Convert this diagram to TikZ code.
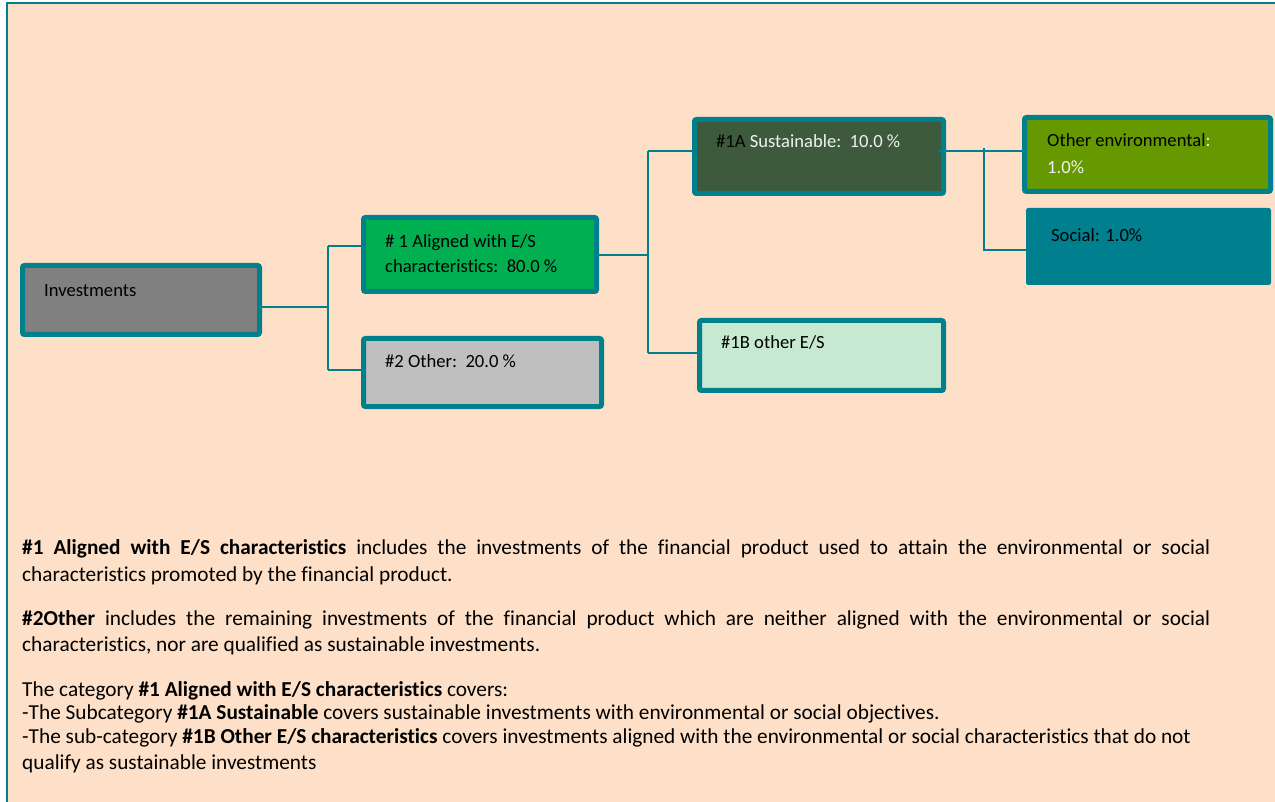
\documentclass[tikz,border=0pt]{standalone}
\usepackage{fontspec}
\setmainfont[Ligatures=NoCommon]{Carlito}
\definecolor{bg}{HTML}{FDE0C7}
\definecolor{tealc}{HTML}{007F8C}
\definecolor{invc}{HTML}{808080}
\definecolor{alc}{HTML}{00B050}
\definecolor{othc}{HTML}{BFBFBF}
\definecolor{susc}{HTML}{3E5A3C}
\definecolor{envc}{HTML}{669900}
\definecolor{socc}{HTML}{00808F}
\definecolor{esc}{HTML}{C7E9D2}
\definecolor{lightt}{HTML}{F0F0F0}
\tikzset{
  bx/.style={draw=tealc, line width=5pt, rounded corners=2pt, inner sep=0pt},
  conn/.style={draw=tealc, line width=1.8pt},
  txt/.style={anchor=base west, inner sep=0pt, font=\fontsize{18.6}{23}\selectfont},
  ptxt/.style={anchor=base west, inner sep=0pt, font=\fontsize{21.3}{24}\selectfont},
}
\begin{document}
\begin{tikzpicture}[x=1pt,y=-1pt]
\useasboundingbox (0,0) rectangle (1275,802);
\fill[white] (0,0) rectangle (1275,802);
\fill[bg] (6,3) rectangle (1275,802);
\draw[tealc, line width=2pt] (6.5,802) -- (6.5,3.5) -- (1275,3.5);

% boxes
\node[bx, fill=invc, minimum width=237pt, minimum height=69pt] (inv) at (141,300) {};
\node[bx, fill=alc, minimum width=233pt, minimum height=74pt] (a1) at (480,254.5) {};
\node[bx, fill=othc, minimum width=238pt, minimum height=68pt] (o2) at (482.5,372.5) {};
\node[bx, fill=susc, minimum width=249pt, minimum height=74pt] (s1a) at (819,156.5) {};
\node[bx, fill=esc, minimum width=244pt, minimum height=70pt] (e1b) at (821.5,355.5) {};
\node[bx, fill=envc, minimum width=246pt, minimum height=74pt] (oe) at (1147.5,154.5) {};
\node[draw=socc, fill=socc, line width=1pt, rounded corners=2pt, minimum width=244pt, minimum height=76pt] (soc) at (1148.5,246.5) {};

% connectors
\coordinate (j1) at (328,307);
\coordinate (t1) at (328,246);
\coordinate (b1) at (328,370);
\coordinate (j2) at (648,255);
\coordinate (t2) at (648,151);
\coordinate (b2) at (648,353);
\coordinate (t3) at (984,148);
\coordinate (b3) at (984,250);
\coordinate (h3) at (938,151);
\draw[conn] (inv.east |- j1) -- (j1);
\draw[conn] (t1) -- (b1);
\draw[conn] (t1) -- (a1.west |- t1);
\draw[conn] (b1) -- (o2.west |- b1);
\draw[conn] (a1.east |- j2) -- (j2);
\draw[conn] (t2) -- (b2);
\draw[conn] (t2) -- (s1a.west |- t2);
\draw[conn] (b2) -- (e1b.west |- b2);
\draw[conn] (h3) -- (oe.west |- h3);
\draw[conn] (t3) -- (b3) -- (soc.west |- b3);

% box texts
\node[txt] (tinv) at (44,297) {Investments};
\node[txt] (ta1) at (385,248) {\# 1 Aligned with E/S};
\node[txt] (ta2) at (385,273) {characteristics:\ \ 80.0 \%};
\node[txt] (to2) at (385,368) {\#2 Other:\ \ 20.0 \%};
\node[txt] (ts1a) at (716,148) {\#1A\ \textcolor{lightt}{Sustainable:\ \ 10.0 \%}};
\node[txt] (te1b) at (721,349) {\#1B other E/S};
\node[txt] (toe1) at (1047,147) {Other environmental\textcolor{lightt}{:}};
\node[txt, text=lightt] (toe2) at (1047,174) {1.0\%};
\node[txt] (tsoc) at (1051,242) {Social: 1.0\%};

% paragraphs
\node[ptxt] (p1a) at (22,554) {\makebox[1188pt][s]{\textbf{\#1 Aligned with E/S characteristics} includes the investments of the financial product used to attain the environmental or social}};
\node[ptxt] (p1b) at (22,581) {characteristics promoted by the financial product.};
\node[ptxt] (p2a) at (22,625) {\makebox[1188pt][s]{\textbf{\#2Other} includes the remaining investments of the financial product which are neither aligned with the environmental or social}};
\node[ptxt] (p2b) at (22,651) {characteristics, nor are qualified as sustainable investments.};
\node[ptxt] (p3a) at (22,696) {The category \textbf{\#1 Aligned with E/S characteristics} covers:};
\node[ptxt] (p3b) at (22,719) {-The Subcategory \textbf{\#1A Sustainable} covers sustainable investments with environmental or social objectives.};
\node[ptxt] (p3c) at (22,743) {-The sub-category \textbf{\#1B Other E/S characteristics} covers investments aligned with the environmental or social characteristics that do not};
\node[ptxt] (p3d) at (22,769) {qualify as sustainable investments};
\end{tikzpicture}
\end{document}
